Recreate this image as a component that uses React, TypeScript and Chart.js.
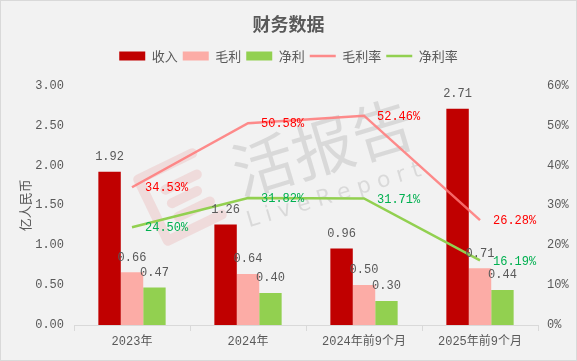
import React, { useEffect, useRef } from 'react';
import { Chart, registerables } from 'chart.js';

Chart.register(...registerables);

const categories = ['2023年', '2024年', '2024年前9个月', '2025年前9个月'];
const revenue = [1.92, 1.26, 0.96, 2.71];
const grossProfit = [0.66, 0.64, 0.5, 0.71];
const netProfit = [0.47, 0.4, 0.3, 0.44];
const grossMargin = [34.53, 50.58, 52.46, 26.28];
const netMargin = [24.5, 31.82, 31.71, 16.19];
const seriesNames = ['收入', '毛利', '净利', '毛利率', '净利率'];
const leftMax = 3;
const leftStep = 0.5;
const rightMax = 60;
const rightStep = 10;
const watermarkMain = '活报告';
const watermarkSub = 'LiveReport';

const MONO = "'Liberation Mono', 'Noto Sans CJK SC', monospace";
const CJK = "'Noto Sans CJK SC', sans-serif";
const TEXT = '#595959';

const legendGapPlugin = {
  id: 'legendGap',
  beforeLayout(chart: any) {
    const lg = chart.legend;
    if (lg && !lg.__patched) {
      const orig = lg.fit;
      lg.fit = function (this: any) {
        orig.call(this);
        this.height += 13;
      };
      lg.__patched = true;
    }
  },
};

const watermarkPlugin = {
  id: 'watermark',
  beforeDatasetsDraw(chart: any) {
    const ctx = chart.ctx;
    ctx.save();
    ctx.translate(179, 196);
    ctx.rotate(-0.45);
    ctx.strokeStyle = 'rgba(225,70,70,0.13)';
    ctx.lineWidth = 10;
    ctx.lineCap = 'round';
    ctx.lineJoin = 'round';
    ctx.beginPath();
    ctx.moveTo(30, -34);
    ctx.lineTo(-30, -34);
    ctx.lineTo(-30, 34);
    ctx.lineTo(30, 34);
    ctx.stroke();
    ctx.beginPath();
    ctx.moveTo(-10, -13);
    ctx.lineTo(25, -13);
    ctx.moveTo(-10, 2);
    ctx.lineTo(18, 2);
    ctx.moveTo(-10, 17);
    ctx.lineTo(25, 17);
    ctx.stroke();
    ctx.restore();

    ctx.save();
    ctx.translate(322, 146);
    ctx.rotate(-0.29);
    ctx.fillStyle = 'rgba(0,0,0,0.1)';
    ctx.textAlign = 'center';
    ctx.textBaseline = 'middle';
    ctx.font = `62px ${CJK}`;
    ctx.fillText(watermarkMain, 0, 0);
    ctx.font = `22px 'DejaVu Sans', sans-serif`;
    (ctx as any).letterSpacing = '7px';
    ctx.fillText(watermarkSub, 0, 50);
    ctx.restore();
  },
};

const labelPlugin = {
  id: 'valueLabels',
  afterDatasetsDraw(chart: any) {
    const ctx = chart.ctx;
    ctx.save();
    ctx.font = `12px ${MONO}`;
    chart.data.datasets.forEach((ds: any, i: number) => {
      const meta = chart.getDatasetMeta(i);
      meta.data.forEach((el: any, j: number) => {
        const v = ds.data[j];
        if (ds.type === 'line') {
          ctx.fillStyle = ds.labelColor;
          ctx.textAlign = 'left';
          ctx.textBaseline = 'middle';
          ctx.fillText(v.toFixed(2) + '%', el.x + 13, el.y + 1);
        } else {
          ctx.fillStyle = TEXT;
          ctx.textAlign = 'center';
          ctx.textBaseline = 'middle';
          ctx.fillText(v.toFixed(2), el.x, el.y - 15);
        }
      });
    });
    ctx.restore();
  },
};

export default function App() {
  const ref = useRef<HTMLCanvasElement>(null);
  useEffect(() => {
    const canvas = ref.current;
    if (!canvas) return;
    const chart = new Chart(canvas, {
      type: 'bar',
      data: {
        labels: categories,
        datasets: [
          { type: 'bar', label: seriesNames[0], data: revenue, backgroundColor: '#c00000', yAxisID: 'y', order: 1 },
          { type: 'bar', label: seriesNames[1], data: grossProfit, backgroundColor: '#fcaca6', yAxisID: 'y', order: 1 },
          { type: 'bar', label: seriesNames[2], data: netProfit, backgroundColor: '#92d050', yAxisID: 'y', order: 1 },
          { type: 'line', label: seriesNames[3], data: grossMargin, borderColor: 'rgba(255,120,120,0.85)', backgroundColor: 'rgba(255,120,120,0.85)', borderWidth: 2.5, pointRadius: 0, tension: 0, yAxisID: 'y1', order: 0, labelColor: '#ff0000' } as any,
          { type: 'line', label: seriesNames[4], data: netMargin, borderColor: '#92d050', backgroundColor: '#92d050', borderWidth: 2.5, pointRadius: 0, tension: 0, yAxisID: 'y1', order: 0, labelColor: '#00b050' } as any,
        ],
      },
      options: {
        animation: false,
        responsive: false,
        maintainAspectRatio: false,
        layout: { padding: { left: 0, right: 0, top: 0, bottom: 0 } },
        datasets: { bar: { categoryPercentage: 0.58, barPercentage: 1 } },
        plugins: {
          tooltip: { enabled: false },
          title: {
            display: true,
            text: '财务数据',
            color: TEXT,
            font: { family: CJK, size: 18, weight: 'bold' },
            padding: { top: 12, bottom: 10 },
          },
          legend: {
            display: true,
            position: 'top',
            labels: {
              color: TEXT,
              font: { family: CJK, size: 13 },
              usePointStyle: true,
              pointStyleWidth: 26,
              boxHeight: 9,
              padding: 5,
              generateLabels: (c: any) => {
                const items = Chart.defaults.plugins.legend.labels.generateLabels(c);
                return items
                  .sort((a: any, b: any) => a.datasetIndex - b.datasetIndex)
                  .map((it: any) => {
                    const ds = c.data.datasets[it.datasetIndex];
                    const isLine = ds.type === 'line';
                    return {
                      ...it,
                      pointStyle: isLine ? 'line' : 'rect',
                      fillStyle: ds.backgroundColor,
                      strokeStyle: isLine ? ds.borderColor : ds.backgroundColor,
                      lineWidth: isLine ? 2.5 : 0,
                    };
                  });
              },
            },
          },
        },
        scales: {
          x: {
            grid: { display: true, drawOnChartArea: false, drawTicks: true, tickLength: 6, color: '#d9d9d9', offset: true },
            border: { display: true, color: '#d9d9d9', width: 1 },
            ticks: { color: TEXT, font: { family: MONO, size: 12 }, padding: 4, maxRotation: 0, autoSkip: false },
            afterFit: (s: any) => { s.height = 35; },
          },
          y: {
            position: 'left',
            min: 0,
            max: leftMax,
            grid: { display: false, drawTicks: false },
            border: { display: false },
            ticks: { stepSize: leftStep, color: TEXT, font: { family: MONO, size: 12 }, padding: 10, callback: (v: any) => Number(v).toFixed(2) },
            title: { display: true, text: '亿人民币', color: TEXT, font: { family: CJK, size: 13 }, padding: { top: 16, bottom: 0 } },
            afterFit: (s: any) => { s.width = 73; },
          },
          y1: {
            position: 'right',
            min: 0,
            max: rightMax,
            grid: { display: false, drawTicks: false },
            border: { display: false },
            ticks: { stepSize: rightStep, color: TEXT, font: { family: MONO, size: 12 }, padding: 9, callback: (v: any) => v + '%' },
            afterFit: (s: any) => { s.width = 38; },
          },
        },
      },
      plugins: [legendGapPlugin, watermarkPlugin, labelPlugin],
    } as any);
    return () => chart.destroy();
  }, []);

  return (
    <div
      style={{
        position: 'fixed',
        left: 0,
        top: 0,
        width: 577,
        height: 361,
        boxSizing: 'border-box',
        border: '1px solid #d9d9d9',
        background: '#f2f2f2',
      }}
    >
      <canvas ref={ref} width={575} height={359} style={{ display: 'block', width: 575, height: 359 }} />
    </div>
  );
}
